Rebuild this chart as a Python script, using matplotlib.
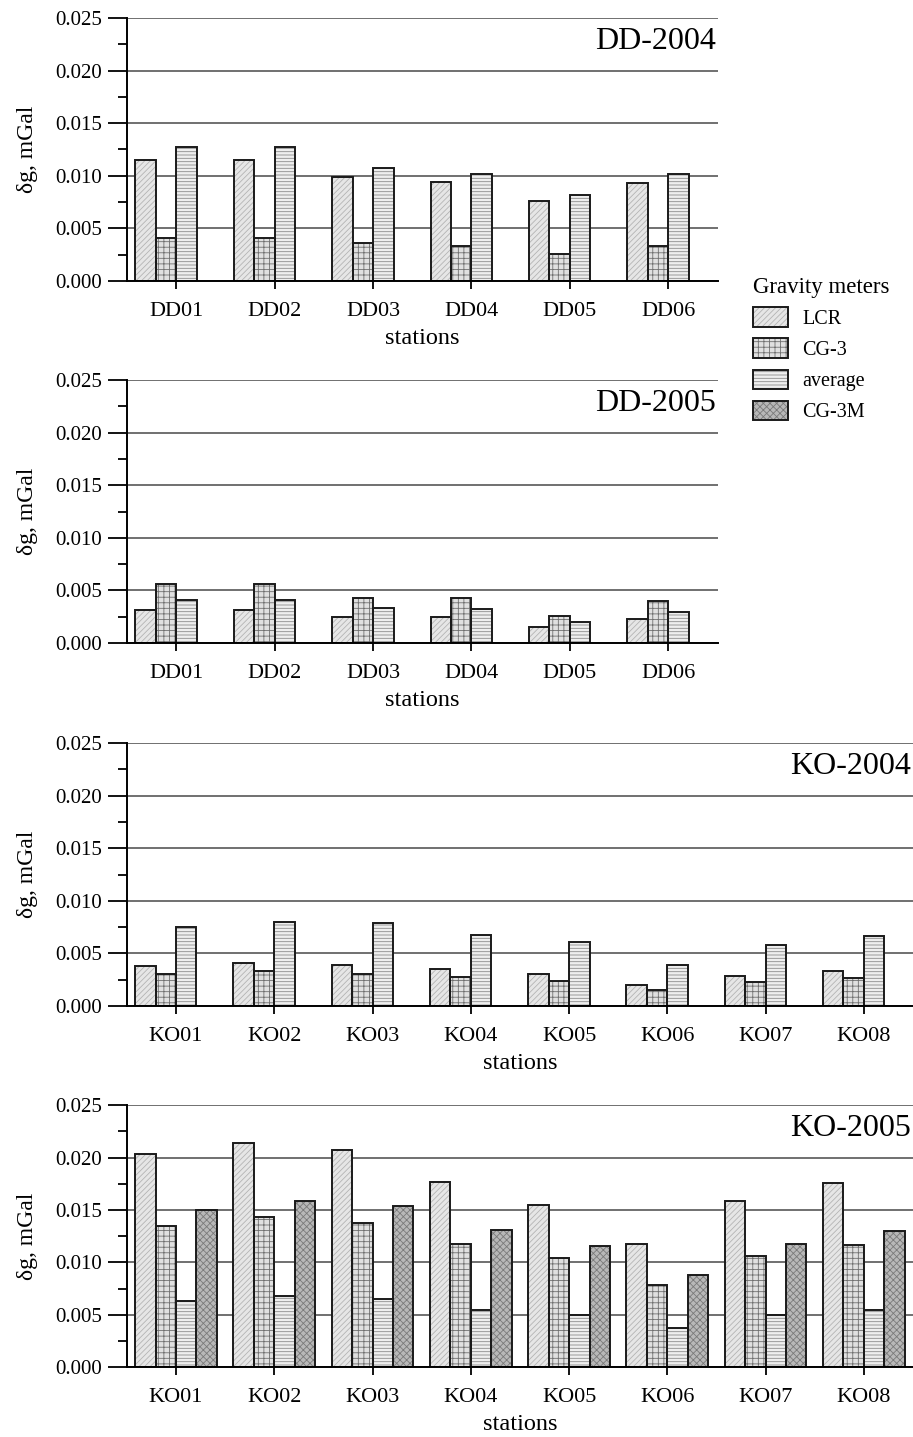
import numpy as np
import matplotlib.pyplot as plt
from matplotlib.patches import Patch
from matplotlib.legend_handler import HandlerTuple
from matplotlib.ticker import MultipleLocator, FormatStrFormatter

plt.rcParams['font.family'] = ['Liberation Serif', 'DejaVu Serif']
plt.rcParams['hatch.linewidth'] = 0.6

# data (mGal)
dd_stations = ['DD01', 'DD02', 'DD03', 'DD04', 'DD05', 'DD06']
ko_stations = ['KO01', 'KO02', 'KO03', 'KO04', 'KO05', 'KO06', 'KO07', 'KO08']

dd2004_lcr = [0.0115, 0.0115, 0.0099, 0.0094, 0.0076, 0.0093]
dd2004_cg3 = [0.0041, 0.0041, 0.0036, 0.0033, 0.0026, 0.0033]
dd2004_avg = [0.0127, 0.0127, 0.0107, 0.0102, 0.0082, 0.0102]

dd2005_lcr = [0.0031, 0.0031, 0.0025, 0.0025, 0.0015, 0.0023]
dd2005_cg3 = [0.0056, 0.0056, 0.0043, 0.0043, 0.0026, 0.0040]
dd2005_avg = [0.0041, 0.0041, 0.0033, 0.0032, 0.0020, 0.0030]

ko2004_lcr = [0.0038, 0.0041, 0.0039, 0.0035, 0.0030, 0.0020, 0.0029, 0.0033]
ko2004_cg3 = [0.0030, 0.0033, 0.0030, 0.0028, 0.0024, 0.0015, 0.0023, 0.0027]
ko2004_avg = [0.0075, 0.0080, 0.0079, 0.0068, 0.0061, 0.0039, 0.0058, 0.0067]

ko2005_lcr = [0.0203, 0.0214, 0.0207, 0.0177, 0.0155, 0.0118, 0.0159, 0.0176]
ko2005_cg3 = [0.0135, 0.0143, 0.0138, 0.0118, 0.0104, 0.0079, 0.0106, 0.0117]
ko2005_avg = [0.0063, 0.0068, 0.0065, 0.0055, 0.0050, 0.0038, 0.0050, 0.0055]
ko2005_cg3m = [0.0150, 0.0159, 0.0154, 0.0131, 0.0116, 0.0088, 0.0118, 0.0130]

meters = ['LCR', 'CG-3', 'average', 'CG-3M']
# face colour, hatch, hatch colour
styles = {
    'LCR': ('#e6e6e6', '//////', '#b4b4b4'),
    'CG-3': ('#e0e0e0', '+++', '#707070'),
    'average': ('#eeeeee', '-----', '#8c8c8c'),
    'CG-3M': ('#b8b8b8', 'xxxxx', '#7a7a7a'),
}
edge = '#1a1a1a'


def draw_panel(ax, stations, series, title):
    x = np.arange(len(stations)) + 0.5
    w = 0.208
    for i, (name, vals) in enumerate(series):
        if vals is None:
            continue
        fc, hatch, hc = styles[name]
        pos = x + (i - 1.5) * w
        ax.bar(pos, vals, w, color=fc, hatch=hatch, edgecolor=hc, linewidth=0, zorder=3)
        ax.bar(pos, vals, w, fill=False, edgecolor=edge, linewidth=1.4, zorder=4)
    ax.set_xlim(0, len(stations))
    ax.set_ylim(0, 0.025)
    ax.set_xticks(x)
    ax.set_xticklabels(stations, fontsize=16)
    ax.yaxis.set_major_locator(MultipleLocator(0.005))
    ax.yaxis.set_minor_locator(MultipleLocator(0.0025))
    ax.yaxis.set_major_formatter(FormatStrFormatter('%.3f'))
    ax.tick_params(axis='y', labelsize=15, length=14, width=1.3, pad=4)
    ax.tick_params(axis='y', which='minor', length=6.5, width=1.3)
    ax.tick_params(axis='x', length=6, width=1.3, pad=9)
    ax.grid(axis='y', color='#707070', linewidth=1.4, zorder=0)
    ax.set_axisbelow(True)
    for s in ['top', 'right']:
        ax.spines[s].set_visible(False)
    ax.spines['left'].set_linewidth(1.4)
    ax.spines['bottom'].set_linewidth(1.4)
    ax.spines['bottom'].set_zorder(5)
    ax.set_ylabel('δg, mGal', fontsize=17, labelpad=12)
    ax.set_xlabel('stations', fontsize=17.5, labelpad=5)
    ax.text(0.998, 0.966, title, transform=ax.transAxes, ha='right', va='top', fontsize=23)


fig = plt.figure(figsize=(9.13, 14.37), dpi=100)
ax1 = fig.add_axes([0.139, 0.8045, 0.647, 0.1830])
ax2 = fig.add_axes([0.139, 0.5525, 0.647, 0.1830])
ax3 = fig.add_axes([0.139, 0.2999, 0.861, 0.1830])
ax4 = fig.add_axes([0.139, 0.0484, 0.861, 0.1826])

draw_panel(ax1, dd_stations, [('LCR', dd2004_lcr), ('CG-3', dd2004_cg3), ('average', dd2004_avg), ('CG-3M', None)], 'DD-2004')
draw_panel(ax2, dd_stations, [('LCR', dd2005_lcr), ('CG-3', dd2005_cg3), ('average', dd2005_avg), ('CG-3M', None)], 'DD-2005')
draw_panel(ax3, ko_stations, [('LCR', ko2004_lcr), ('CG-3', ko2004_cg3), ('average', ko2004_avg), ('CG-3M', None)], 'KO-2004')
draw_panel(ax4, ko_stations, [('LCR', ko2005_lcr), ('CG-3', ko2005_cg3), ('average', ko2005_avg), ('CG-3M', ko2005_cg3m)], 'KO-2005')

handles = []
for m in meters:
    fc, hatch, hc = styles[m]
    fill = Patch(facecolor=fc, hatch=hatch, edgecolor=hc, linewidth=0)
    outline = Patch(fill=False, edgecolor=edge, linewidth=1.4)
    handles.append((fill, outline))
leg = fig.legend(handles=handles, labels=meters, title='Gravity meters', loc='upper left',
                 bbox_to_anchor=(0.8248, 0.8075), frameon=False, fontsize=14.5,
                 title_fontsize=16.5, handlelength=1.75, handleheight=1.1,
                 labelspacing=0.48, handletextpad=0.7, borderaxespad=0, borderpad=0,
                 alignment='left', handler_map={tuple: HandlerTuple(ndivide=1)})

fig.savefig('out.png', dpi=100)
